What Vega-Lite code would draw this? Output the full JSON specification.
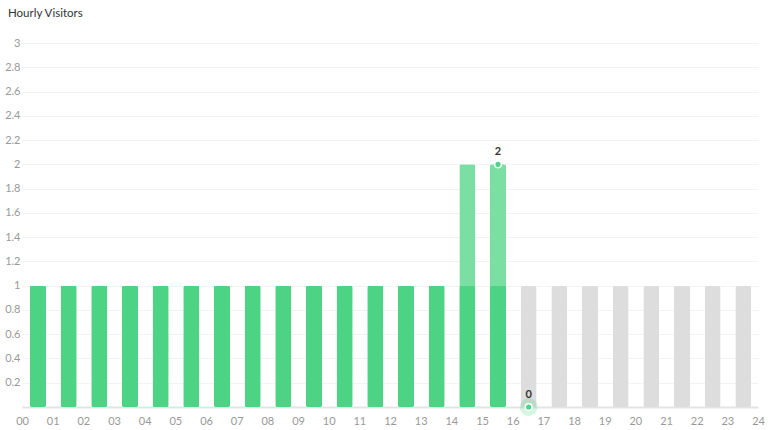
{
  "$schema": "https://vega.github.io/schema/vega-lite/v6.json",
  "autosize": "none",
  "width": 736,
  "height": 364,
  "padding": {"left": 22, "top": 43, "right": 12, "bottom": 23},
  "background": "white",
  "title": {"text": "Hourly Visitors", "anchor": "start", "frame": "group", "dx": -14, "offset": 18, "fontSize": 11.5, "font": "Lato", "fontWeight": "normal", "color": "#333333"},
  "config": {"view": {"stroke": null}, "font": "Lato", "axis": {"labelOverlap": false, "labelFlush": false}},
  "data": {"values": [
    {"hour": 0, "previous": 1, "visitors": 1},
    {"hour": 1, "previous": 1, "visitors": 1},
    {"hour": 2, "previous": 1, "visitors": 1},
    {"hour": 3, "previous": 1, "visitors": 1},
    {"hour": 4, "previous": 1, "visitors": 1},
    {"hour": 5, "previous": 1, "visitors": 1},
    {"hour": 6, "previous": 1, "visitors": 1},
    {"hour": 7, "previous": 1, "visitors": 1},
    {"hour": 8, "previous": 1, "visitors": 1},
    {"hour": 9, "previous": 1, "visitors": 1},
    {"hour": 10, "previous": 1, "visitors": 1},
    {"hour": 11, "previous": 1, "visitors": 1},
    {"hour": 12, "previous": 1, "visitors": 1},
    {"hour": 13, "previous": 1, "visitors": 1},
    {"hour": 14, "previous": 1, "visitors": 2},
    {"hour": 15, "previous": 1, "visitors": 2},
    {"hour": 16, "previous": 1, "visitors": 0},
    {"hour": 17, "previous": 1, "visitors": null},
    {"hour": 18, "previous": 1, "visitors": null},
    {"hour": 19, "previous": 1, "visitors": null},
    {"hour": 20, "previous": 1, "visitors": null},
    {"hour": 21, "previous": 1, "visitors": null},
    {"hour": 22, "previous": 1, "visitors": null},
    {"hour": 23, "previous": 1, "visitors": null}
  ]},
  "layer": [
    {
      "mark": {"type": "bar", "orient": "vertical", "size": 16, "xOffset": 16, "cornerRadius": 2, "color": "#7bdfa4"},
      "transform": [{"filter": "datum.visitors > 0"}],
      "encoding": {
        "x": {"field": "hour", "type": "quantitative", "scale": {"domain": [0, 24], "nice": false, "zero": false, "padding": 0},
          "axis": {"values": [0,1,2,3,4,5,6,7,8,9,10,11,12,13,14,15,16,17,18,19,20,21,22,23,24], "tickCount": 50,
            "labelExpr": "datum.value < 10 ? '0' + datum.value : '' + datum.value",
            "title": null, "grid": false, "ticks": false, "domainColor": "#e4e4e4", "domainWidth": 2,
            "labelColor": "#999999", "labelFontSize": 11, "labelFont": "Lato", "labelPadding": 8, "labelFlush": false, "labelOverlap": false}},
        "y": {"field": "visitors", "type": "quantitative", "scale": {"domain": [0, 3], "nice": false},
          "axis": {"values": [0.2,0.4,0.6,0.8,1,1.2,1.4,1.6,1.8,2,2.2,2.4,2.6,2.8,3], "tickCount": 50,
            "labelExpr": "format(datum.value, '~g')",
            "title": null, "domain": false, "ticks": false, "gridColor": "#f3f3f3", "gridWidth": 1,
            "labelColor": "#999999", "labelFontSize": 11, "labelFont": "Lato", "labelPadding": 2, "labelOverlap": false}}
      }
    },
    {
      "mark": {"type": "bar", "orient": "vertical", "size": 16, "xOffset": 16, "cornerRadius": 2},
      "encoding": {
        "x": {"field": "hour", "type": "quantitative"},
        "y": {"field": "previous", "type": "quantitative"},
        "color": {"condition": {"test": "datum.visitors > 0", "value": "#4cd384"}, "value": "#dddddd"}
      }
    },
    {
      "mark": {"type": "point", "filled": true, "size": 320, "xOffset": 16, "color": "#4cd384", "opacity": 0.22},
      "transform": [{"filter": "datum.hour == 16"}],
      "encoding": {
        "x": {"field": "hour", "type": "quantitative"},
        "y": {"field": "visitors", "type": "quantitative"}
      }
    },
    {
      "mark": {"type": "point", "filled": true, "size": 45, "xOffset": 16, "color": "#4cd384", "stroke": "white", "strokeWidth": 1.5, "opacity": 1},
      "transform": [{"filter": "datum.hour >= 15 && datum.visitors != null"}],
      "encoding": {
        "x": {"field": "hour", "type": "quantitative"},
        "y": {"field": "visitors", "type": "quantitative"}
      }
    },
    {
      "mark": {"type": "text", "xOffset": 16, "dy": -12, "fontSize": 11, "fontWeight": "bold", "font": "Lato", "color": "#333333"},
      "transform": [{"filter": "datum.hour >= 15 && datum.visitors != null"}],
      "encoding": {
        "x": {"field": "hour", "type": "quantitative"},
        "y": {"field": "visitors", "type": "quantitative"},
        "text": {"field": "visitors", "type": "quantitative"}
      }
    }
  ]
}
